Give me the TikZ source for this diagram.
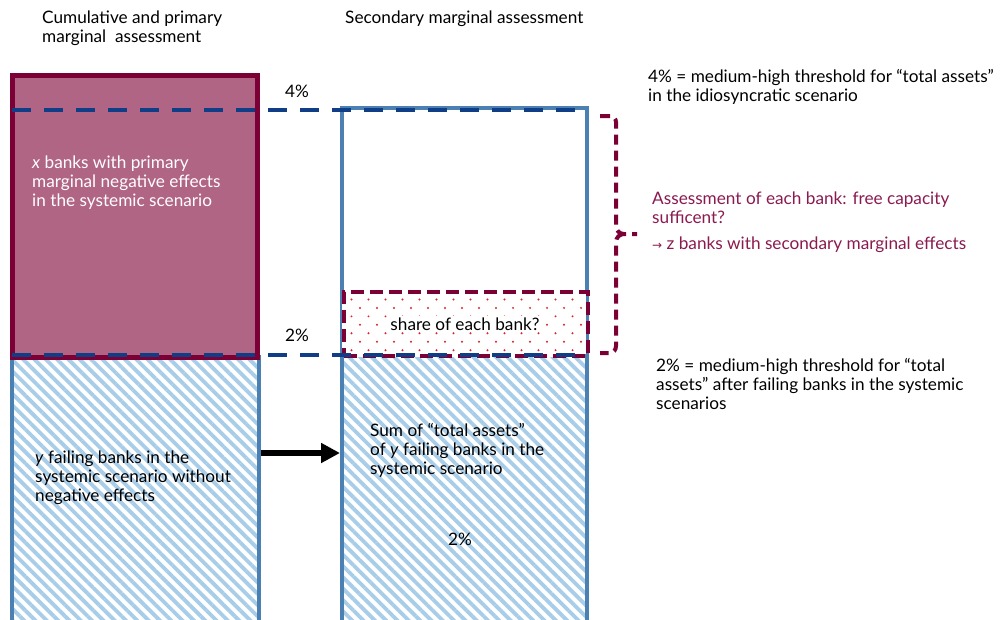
\documentclass[tikz,border=0pt]{standalone}
\usepackage{fontspec}
\setmainfont{Lato}
\newfontfamily\dejavu{DejaVu Sans}
\usetikzlibrary{patterns.meta,arrows.meta}
\definecolor{dred}{HTML}{7A0035}
\definecolor{rfill}{HTML}{B06585}
\definecolor{bbox}{HTML}{4A80B2}
\definecolor{navy}{HTML}{0F3E86}
\definecolor{hatchc}{HTML}{A8CDE9}
\definecolor{rtext}{HTML}{8A1A50}
\definecolor{dotc}{HTML}{E0202A}
\tikzset{
  txt/.style={inner sep=0pt, anchor=north west, align=left, font=\fontsize{17.2}{18.9}\selectfont},
  pct/.style={inner sep=0pt, anchor=center, font=\fontsize{17.2}{18.9}\selectfont},
  hatchbox/.style={draw=bbox, line width=4pt, inner sep=0pt, anchor=north west,
    pattern={Lines[angle=-45, distance=8pt, line width=3.8pt]}, pattern color=hatchc},
  redbox/.style={draw=dred, line width=5pt, fill=rfill, inner sep=0pt, anchor=north west},
  secbox/.style={draw=bbox, line width=4pt, inner sep=0pt, anchor=north west},
  dotbox/.style={draw=dred, line width=4pt, dash pattern=on 13pt off 6pt, inner sep=0pt, anchor=north west},
  navydash/.style={draw=navy, line width=4pt, dash pattern=on 19pt off 13pt},
  bracket/.style={draw=dred, line width=4pt, dash pattern=on 10pt off 6pt},
  bigarrow/.style={draw=black, line width=6pt, -{Triangle[length=19pt, width=19pt]}}
}
\begin{document}
\begin{tikzpicture}[x=1pt, y=-1pt]
\useasboundingbox (0,0) rectangle (1003,619);
\clip (0,0) rectangle (1003,619);
\fill[white] (0,0) rectangle (1003,619);

% left column
\node[hatchbox, minimum width=247pt, minimum height=290pt] (lhatch) at (10,355) {};
\node[redbox, minimum width=245pt, minimum height=282pt] (lred) at (10,73) {};

% right column
\node[hatchbox, draw=none, minimum width=245pt, minimum height=290pt] (rhatch) at (340,355) {};
\node[secbox, minimum width=245pt, minimum height=540pt] (rsec) at (340,106) {};

% dotted box
\node[inner sep=0pt, anchor=north west, fill=white, minimum width=244pt, minimum height=64pt] (dots) at (342,290) {};
\begin{scope}
\clip (344,292) rectangle (584,352);
\foreach \k in {0,...,7} {
  \foreach \i in {0,...,14} {
    \fill[dotc] ({343+8.5*mod(\k,2)+17*\i},{291+8.45*\k}) circle (1.1pt);
  }
}
\end{scope}
\node[dotbox, minimum width=244pt, minimum height=64pt] (dotb) at (342,290) {};
\node[pct, fill=white, inner sep=2pt] (share) at (465,324) {share of each bank?};

% dashed thresholds
\coordinate (t4a) at (12,110);
\coordinate (t4b) at (588,110);
\coordinate (t2a) at (12,355);
\coordinate (t2b) at (588,355);
\draw[navydash] (t4a) -- (t4b);
\draw[navydash] (t2a) -- (t2b);

% bracket
\coordinate (bt) at (600,116);
\coordinate (bm) at (637,234);
\coordinate (bb) at (600,353);
\draw[bracket] (bt) -- (610,116) to[out=0,in=90] (616,122) -- (616,226) to[out=-90,in=180] (624,234) -- (bm);
\draw[bracket] (624,234) to[out=180,in=90] (616,242) -- (616,346) to[out=-90,in=0] (610,353) -- (bb);

% arrow
\draw[bigarrow] (lhatch.east |- 0,453) -- (rsec.west |- 0,453);

% texts
\node[txt] (h1) at (42,11) {Cumulative and primary\\marginal\ \ assessment};
\node[txt] (h2) at (345,11) {Secondary marginal assessment};
\node[pct] (p4) at (297,91) {4\%};
\node[pct] (p2) at (297,335) {2\%};
\node[txt, text=white] (xt) at (32,156) {\textit{x} banks with primary\\marginal negative effects\\in the systemic scenario};
\node[txt] (yt) at (35,451) {\textit{y} failing banks in the\\systemic scenario without\\negative effects};
\node[txt] (st) at (370,423) {Sum of “total assets”\\of \textit{y} failing banks in the\\systemic scenario};
\node[pct] (p2b) at (460,539) {2\%};
\node[txt] (n4) at (648,69) {4\% = medium-high threshold for “total assets”\\in the idiosyncratic scenario};
\node[txt, text=rtext] (as) at (652,192) {Assessment of each bank: free capacity\\sufficent?};
\node[txt, text=rtext] (zb) at (652,237) {{\dejavu\fontsize{12}{13}\selectfont →} z banks with secondary marginal effects};
\node[txt] (n2) at (656,358) {2\% = medium-high threshold for “total\\assets” after failing banks in the systemic\\scenarios};
\end{tikzpicture}
\end{document}
